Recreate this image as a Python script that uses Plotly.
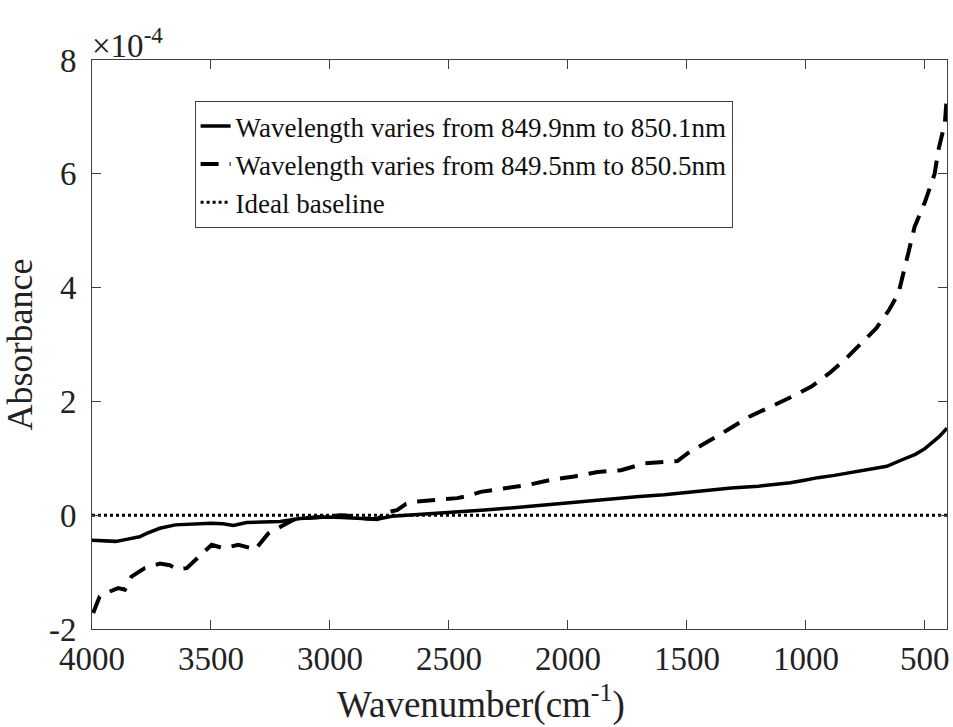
import plotly.graph_objects as go

# Wavenumber (cm^-1) and absorbance values (units of 1e-4)
wn_narrow = [4000, 3950, 3900, 3850, 3800, 3770, 3715, 3650, 3580, 3500, 3450, 3406, 3350, 3280,
             3209, 3125, 3013, 2950, 2880, 2802, 2740, 2662, 2550, 2465, 2350, 2228, 2120, 2017,
             1900, 1807, 1700, 1596, 1500, 1400, 1314, 1200, 1150, 1065, 1000, 950, 880, 840,
             783, 720, 660, 598, 540, 500, 472, 440, 407]
abs_narrow = [-0.44, -0.45, -0.46, -0.42, -0.38, -0.32, -0.23, -0.17, -0.16, -0.14, -0.15, -0.18,
              -0.13, -0.12, -0.11, -0.06, -0.03, -0.04, -0.05, -0.07, -0.02, 0.0, 0.03, 0.06, 0.09,
              0.13, 0.17, 0.21, 0.26, 0.30, 0.33, 0.36, 0.40, 0.44, 0.48, 0.51, 0.53, 0.57, 0.62,
              0.66, 0.70, 0.73, 0.76, 0.82, 0.86, 0.97, 1.07, 1.17, 1.27, 1.38, 1.53]

wn_wide = [3995, 3968, 3925, 3890, 3862, 3834, 3778, 3715, 3673, 3640, 3602, 3553, 3497, 3448,
           3385, 3340, 3315, 3259, 3202, 3153, 3100, 3050, 3000, 2950, 2900, 2850, 2802, 2760,
           2718, 2680, 2634, 2550, 2465, 2420, 2367, 2270, 2170, 2072, 1974, 1875, 1777, 1679,
           1595, 1540, 1496, 1420, 1328, 1238, 1150, 1060, 977, 900, 830, 758, 703, 650, 611,
           570, 543, 500, 459, 443, 416, 407]
abs_wide = [-1.72, -1.43, -1.34, -1.28, -1.31, -1.08, -0.93, -0.85, -0.88, -0.95, -0.93, -0.73,
            -0.52, -0.58, -0.52, -0.57, -0.61, -0.32, -0.20, -0.08, -0.05, -0.04, -0.02, 0.00,
            -0.02, -0.06, -0.07, 0.05, 0.09, 0.20, 0.24, 0.27, 0.30, 0.34, 0.41, 0.47, 0.53, 0.62,
            0.68, 0.76, 0.79, 0.91, 0.94, 0.95, 1.09, 1.27, 1.50, 1.73, 1.90, 2.08, 2.26, 2.50,
            2.76, 3.05, 3.29, 3.61, 3.90, 4.60, 5.07, 5.50, 6.00, 6.42, 6.89, 7.40]

wn_base = [4000, 407]
abs_base = [0, 0]

x_ticks = [4000, 3500, 3000, 2500, 2000, 1500, 1000, 500]
y_ticks = [-2, 0, 2, 4, 6, 8]
y_ticktext = ["-2", "0", "2", "4", "6", "8"]

FONT = "Liberation Serif"

fig = go.Figure()
fig.add_trace(go.Scatter(x=wn_narrow, y=abs_narrow, mode="lines",
                         name="Wavelength varies from 849.9nm to 850.1nm",
                         line=dict(color="black", width=3.5)))
fig.add_trace(go.Scatter(x=wn_wide, y=abs_wide, mode="lines",
                         name="Wavelength varies from 849.5nm to 850.5nm",
                         line=dict(color="black", width=4, dash="18px,11px")))
fig.add_trace(go.Scatter(x=wn_base, y=abs_base, mode="lines",
                         name="Ideal baseline",
                         line=dict(color="black", width=3, dash="3px,3px")))

axis_common = dict(showline=True, linecolor="#404040", linewidth=1, mirror="ticks",
                   ticks="inside", ticklen=9, tickcolor="#404040", showgrid=False,
                   zeroline=False, automargin=False,
                   tickfont=dict(family=FONT, size=33, color="#222"))

fig.update_xaxes(range=[4000, 407], tickvals=x_ticks, ticklabelstandoff=0, **axis_common)
fig.update_yaxes(range=[-2, 8], tickvals=y_ticks, ticktext=y_ticktext, ticklabelstandoff=8,
                 title=dict(text="Absorbance", font=dict(family=FONT, size=36, color="#222"),
                            standoff=10),
                 **axis_common)

# x-axis title (placed as in the reference, slightly left of centre)
fig.add_annotation(x=0.455, y=-0.128, xref="paper", yref="paper", xanchor="center", yanchor="middle",
                   text="Wavenumber(cm<sup>-1</sup>)", showarrow=False,
                   font=dict(family=FONT, size=37, color="#222"))

fig.add_annotation(x=0, y=1, xref="paper", yref="paper", xanchor="left", yanchor="bottom",
                   text="×10<sup>-4</sup>", showarrow=False, xshift=-2, yshift=-6,
                   font=dict(family=FONT, size=33, color="#222"))

fig.update_layout(
    width=953, height=727,
    margin=dict(l=92, r=6, t=60, b=98),
    plot_bgcolor="white", paper_bgcolor="white",
    font=dict(family=FONT, color="#222"),
    legend=dict(x=0.12, y=0.928, xanchor="left", yanchor="top",
                bgcolor="white", bordercolor="#404040", borderwidth=1,
                font=dict(family=FONT, size=27, color="#111"),
                tracegroupgap=0, itemwidth=30),
)

fig.write_html("out.html")
